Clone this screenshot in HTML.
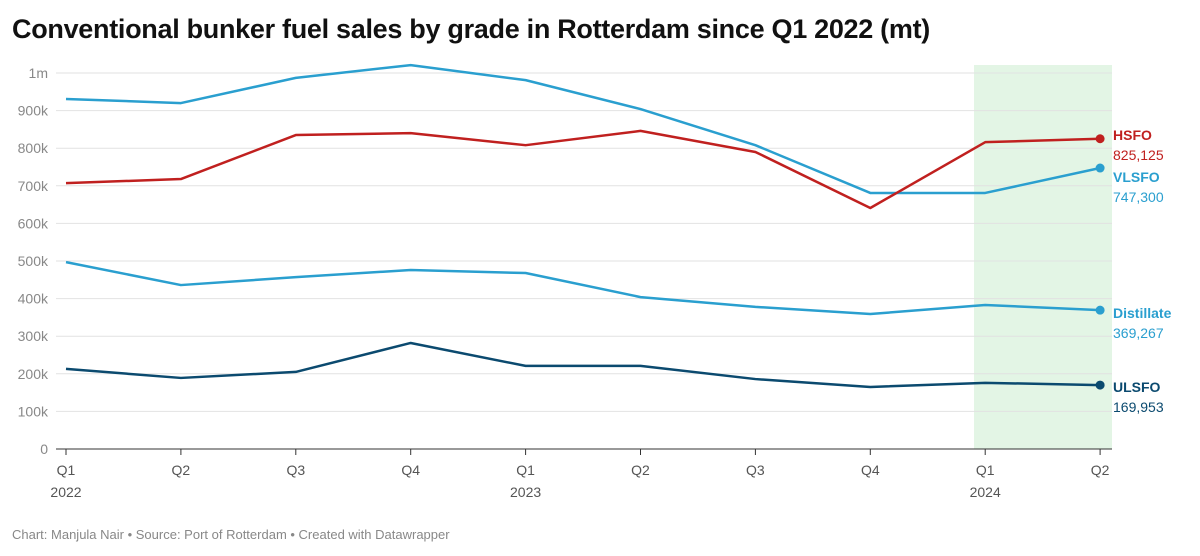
<!DOCTYPE html>
<html><head><meta charset="utf-8"><style>
body{margin:0;background:#fff;font-family:"Liberation Sans",sans-serif;}
#wrap{position:relative;width:1200px;height:556px;overflow:hidden}
h1{position:absolute;left:12px;top:14px;margin:0;font-size:27px;font-weight:bold;color:#111;letter-spacing:-0.3px}
#foot{position:absolute;left:12px;top:527px;font-size:13px;color:#888}
</style></head><body>
<div id="wrap">
<h1>Conventional bunker fuel sales by grade in Rotterdam since Q1 2022 (mt)</h1>
<svg id="chart" width="1200" height="556" style="position:absolute;left:0;top:0"></svg>
<div id="foot">Chart: Manjula Nair • Source: Port of Rotterdam • Created with Datawrapper</div>
</div>
<script>
const quarters=["Q1","Q2","Q3","Q4","Q1","Q2","Q3","Q4","Q1","Q2"];
const years=["2022","","","","2023","","","","2024",""];
const yTicks=[0,100000,200000,300000,400000,500000,600000,700000,800000,900000,1000000];
const yTickLabels=["0","100k","200k","300k","400k","500k","600k","700k","800k","900k","1m"];
const vlsfo=[931000,920000,987000,1021000,981000,904000,808000,681000,681000,747300];
const hsfo=[707000,718000,835000,840000,808000,846000,790000,641000,816000,825125];
const distillate=[497000,436000,457000,476000,468000,404000,378000,359000,383000,369267];
const ulsfo=[213000,189000,205000,282000,221000,221000,186000,165000,176000,169953];
const NS="http://www.w3.org/2000/svg";
const svg=document.getElementById('chart');
const x=i=>66+i*114.9;
const y=v=>449-v/1000000*376;
function mk(t,a){const e=document.createElementNS(NS,t);for(const k in a)e.setAttribute(k,a[k]);svg.appendChild(e);return e;}
let hl=mk('rect',{x:974,y:65,width:138,height:384,fill:'#e3f5e5'});


yTicks.forEach((v,i)=>{
 let g=mk('line',{x1:56,x2:1112,y1:y(v),y2:y(v),stroke:i==0?'#333':'#e2e2e2','stroke-width':1});
 
 
 let t=mk('text',{x:48,y:y(v)+5,'text-anchor':'end','font-size':14,fill:'#888'});
 t.textContent=yTickLabels[i];
 
 
});
quarters.forEach((q,i)=>{
 mk('line',{x1:x(i),x2:x(i),y1:449,y2:455,stroke:'#333'});
 let t=mk('text',{x:x(i),y:475,'text-anchor':'middle','font-size':14,fill:'#555'});
 t.textContent=q;
 
 
 if(years[i]){let t2=mk('text',{x:x(i),y:497,'text-anchor':'middle','font-size':14,fill:'#555'});t2.textContent=years[i];
 
 }
});
const series=[["distillate",distillate,"#2a9fcf","Distillate"],["ulsfo",ulsfo,"#0b4a6f","ULSFO"],["vlsfo",vlsfo,"#2a9fcf","VLSFO"],["hsfo",hsfo,"#c0201f","HSFO"]];
const labelY={hsfo:[140,160],vlsfo:[182,202],distillate:[318,338],ulsfo:[392,412]};
series.forEach(([id,d,c,name])=>{
 let p=mk('polyline',{points:d.map((v,i)=>x(i)+','+y(v)).join(' '),fill:'none',stroke:c,'stroke-width':2.5,'stroke-linejoin':'round'});
 
 
 let last=d.length-1;
 let dot=mk('circle',{cx:x(last),cy:y(d[last]),r:4.5,fill:c});
 
 
 let l1=mk('text',{x:1113,y:labelY[id][0],'font-size':14,'font-weight':'bold',fill:c});l1.textContent=name;
 
 
 let l2=mk('text',{x:1113,y:labelY[id][1],'font-size':14,fill:c});l2.textContent=d[last].toLocaleString('en-US');
 
 
});
</script>
</body></html>
